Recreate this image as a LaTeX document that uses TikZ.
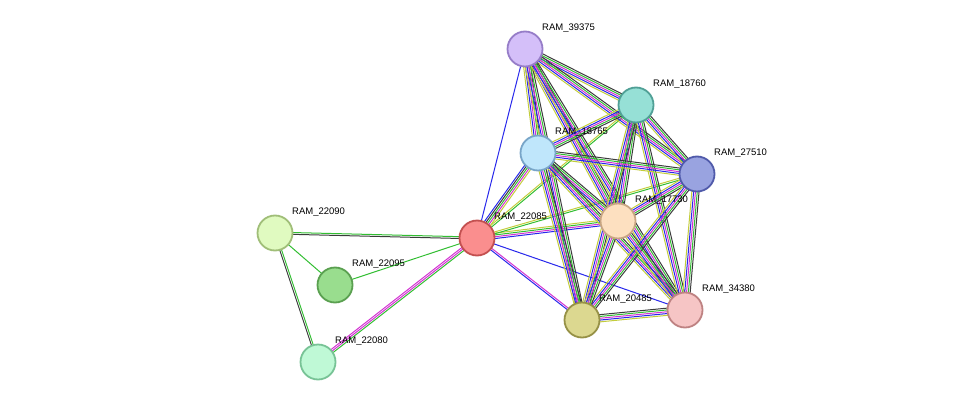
\documentclass[tikz,border=0pt]{standalone}
\usepackage{fontspec}
\setmainfont{Liberation Sans}
\usetikzlibrary{calc}
\pgfdeclarelayer{bg}\pgfsetlayers{bg,main}
\definecolor{eg}{RGB}{50,190,50}
\definecolor{ey}{RGB}{195,205,60}
\definecolor{eb}{RGB}{40,40,235}
\definecolor{em}{RGB}{210,50,210}
\definecolor{ek}{RGB}{60,60,60}
\definecolor{fa}{RGB}{212,191,249}\definecolor{da}{RGB}{150,125,200}
\definecolor{fb}{RGB}{150,224,214}\definecolor{db}{RGB}{80,160,150}
\definecolor{fc}{RGB}{191,230,251}\definecolor{dc}{RGB}{120,165,200}
\definecolor{fd}{RGB}{153,163,224}\definecolor{dd}{RGB}{80,90,170}
\definecolor{fe}{RGB}{253,224,192}\definecolor{de}{RGB}{200,165,130}
\definecolor{ff}{RGB}{250,142,142}\definecolor{df}{RGB}{195,80,80}
\definecolor{fg}{RGB}{224,250,192}\definecolor{dg}{RGB}{160,190,120}
\definecolor{fh}{RGB}{153,221,142}\definecolor{dh}{RGB}{90,160,80}
\definecolor{fi}{RGB}{191,249,214}\definecolor{di}{RGB}{120,195,150}
\definecolor{fj}{RGB}{220,216,144}\definecolor{dj}{RGB}{150,145,70}
\definecolor{fk}{RGB}{246,197,197}\definecolor{dk}{RGB}{190,130,130}
\newcommand\ml[4]{\foreach \c [count=\i] in {#4}{\pgfmathsetmacro\o{(\i-(#3+1)/2)*1.8}\draw[\c,line width=1pt] ($(#1)!\o pt!90:(#2)$) -- ($(#2)!\o pt!-90:(#1)$);}}
\tikzset{pn/.style={circle,minimum size=35pt,inner sep=0pt,line width=1.8pt},
lb/.style={font=\fontsize{9.5}{11}\selectfont,anchor=south west,inner sep=0pt}}
\begin{document}
\begin{tikzpicture}[x=1pt,y=1pt]
\useasboundingbox (0,0) rectangle (976,408);
\def\N#1#2#3#4{\node[pn,fill=f#1,draw=d#1] (#1) at (#2,408-#3) {};\node[lb] (l#1) at (#2+17,408-#3+16) {#4};}
\N{a}{525}{49}{RAM\_39375}
\N{b}{636}{105}{RAM\_18760}
\N{c}{538}{153}{RAM\_18765}
\N{d}{697}{174}{RAM\_27510}
\N{e}{618}{221}{RAM\_17730}
\N{f}{477}{238}{RAM\_22085}
\N{g}{275}{233}{RAM\_22090}
\N{h}{335}{285}{RAM\_22095}
\N{i}{318}{362}{RAM\_22080}
\N{j}{582}{320}{RAM\_20485}
\N{k}{685}{310}{RAM\_34380}
\begin{pgfonlayer}{bg}
\ml{g}{f}{2}{ek,eg}
\ml{g}{i}{2}{ek,eg}
\ml{g}{h}{1}{eg}
\ml{h}{f}{1}{eg}
\ml{i}{f}{3}{eg,em,em}
\ml{f}{a}{1}{eb}
\ml{f}{c}{5}{ey,em,eg,ek,eb}
\ml{f}{e}{4}{eb,em,eg,ey}
\ml{f}{d}{2}{eg,ey}
\ml{f}{b}{2}{eg,ey}
\ml{f}{j}{2}{eb,em}
\ml{f}{k}{1}{eb}
\foreach \p/\q in {a/b,a/c,a/d,a/e,a/j,a/k,b/c,b/d,b/e,b/j,b/k,c/d,c/e,c/j,c/k,d/e,d/j,d/k,e/j,e/k,j/k}{\ml{\p}{\q}{5}{ey,eb,em,eg,ek}}
\end{pgfonlayer}
\end{tikzpicture}
\end{document}
